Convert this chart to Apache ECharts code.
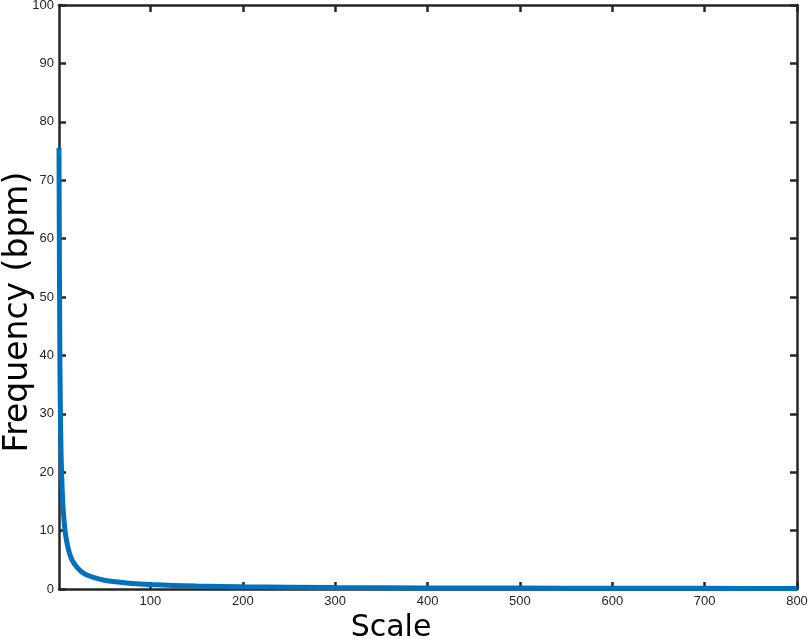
<!DOCTYPE html>
<html>
<head>
<meta charset="utf-8">
<script src="https://cdn.jsdelivr.net/npm/echarts@6/dist/echarts.min.js"></script>
<style>
html,body{margin:0;padding:0;background:#fff;}
#chart{width:809px;height:639px;}
</style>
</head>
<body>
<div id="chart"></div>
<script>
// Data
const scaleValues = [1, 2, 3, 4, 5, 6, 8, 10, 12, 15, 20, 25, 30, 40, 50, 60, 80, 100, 150, 200, 300, 400, 500, 600, 700, 800];
const frequencyValues = [75.5, 37.8, 25.2, 18.9, 15.1, 12.6, 9.4, 7.6, 6.3, 5.0, 3.8, 3.0, 2.5, 1.9, 1.5, 1.3, 0.94, 0.76, 0.5, 0.38, 0.25, 0.19, 0.15, 0.13, 0.11, 0.09];
const xTickValues = [100, 200, 300, 400, 500, 600, 700, 800];

const points = scaleValues.map((s, i) => [s, frequencyValues[i]]);
const axisColor = '#262626';
const labelFont = {color: axisColor, fontSize: 13, fontFamily: 'Liberation Sans, Arial, sans-serif'};

const chart = echarts.init(document.getElementById('chart'));
chart.setOption({
  animation: false,
  backgroundColor: '#fff',
  grid: {left: 59, right: 12, top: 5, bottom: 50, containLabel: false, outerBoundsMode: 'none'},
  xAxis: [{
    type: 'value', min: 1, max: 800, position: 'bottom',
    name: 'Scale', nameLocation: 'middle', nameGap: 24, nameMoveOverlap: false,
    nameTextStyle: {fontSize: 30, color: '#000', fontFamily: 'DejaVu Sans', padding: [0, 74, 0, 0]},
    axisLine: {show: true, onZero: false, lineStyle: {color: axisColor, width: 2.5}},
    axisTick: {show: true, inside: true, length: 7, customValues: xTickValues, lineStyle: {color: axisColor, width: 2.5}},
    axisLabel: {show: true, customValues: xTickValues, margin: 6, ...labelFont},
    splitLine: {show: false}
  }, {
    type: 'value', min: 1, max: 800, position: 'top',
    axisLine: {show: true, onZero: false, lineStyle: {color: axisColor, width: 2.5}},
    axisTick: {show: true, inside: true, length: 7, customValues: xTickValues, lineStyle: {color: axisColor, width: 2.5}},
    axisLabel: {show: false},
    splitLine: {show: false}
  }],
  yAxis: [{
    type: 'value', min: 0, max: 100, interval: 10, position: 'left',
    name: 'Frequency (bpm)', nameLocation: 'middle', nameGap: 24, nameMoveOverlap: false,
    nameTextStyle: {fontSize: 33, color: '#000', fontFamily: 'DejaVu Sans', padding: [0, 30, 0, 0]},
    axisLine: {show: true, onZero: false, lineStyle: {color: axisColor, width: 2.5}},
    axisTick: {show: true, inside: true, length: 7, lineStyle: {color: axisColor, width: 2.5}},
    axisLabel: {show: true, margin: 5, ...labelFont},
    splitLine: {show: false}
  }, {
    type: 'value', min: 0, max: 100, interval: 10, position: 'right',
    axisLine: {show: true, onZero: false, lineStyle: {color: axisColor, width: 2.5}},
    axisTick: {show: true, inside: true, length: 7, lineStyle: {color: axisColor, width: 2.5}},
    axisLabel: {show: false},
    splitLine: {show: false}
  }],
  series: [{
    type: 'line',
    data: points,
    xAxisIndex: 0, yAxisIndex: 0,
    showSymbol: false,
    smooth: 0.3,
    clip: true,
    lineStyle: {color: '#0072BD', width: 5},
    z: 1
  }]
});
</script>
</body>
</html>
